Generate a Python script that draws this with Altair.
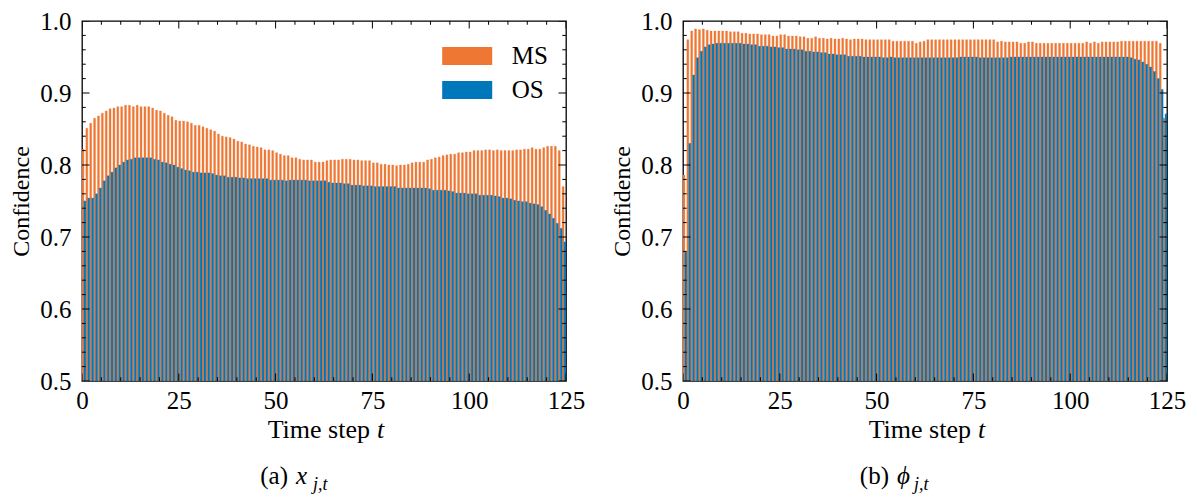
import altair as alt
import pandas as pd

# ---------------- data ----------------
STEPS = list(range(125))
SERIES = ["MS", "OS"]
COLORS = ["#EE7733", "#0077BB"]

A_MS = [0.822, 0.851, 0.858, 0.865, 0.868, 0.872, 0.875, 0.878, 0.879, 0.881,
        0.881, 0.883, 0.883, 0.881, 0.883, 0.881, 0.881, 0.881, 0.879, 0.876,
        0.875, 0.872, 0.869, 0.867, 0.862, 0.861, 0.861, 0.860, 0.858, 0.855,
        0.855, 0.853, 0.851, 0.849, 0.847, 0.843, 0.840, 0.839, 0.838, 0.836,
        0.833, 0.832, 0.829, 0.828, 0.826, 0.825, 0.824, 0.821, 0.821, 0.820,
        0.817, 0.815, 0.813, 0.813, 0.810, 0.810, 0.808, 0.807, 0.807, 0.807,
        0.804, 0.804, 0.804, 0.806, 0.807, 0.807, 0.807, 0.808, 0.808, 0.808,
        0.807, 0.807, 0.806, 0.806, 0.806, 0.803, 0.803, 0.801, 0.801, 0.800,
        0.800, 0.799, 0.800, 0.800, 0.801, 0.803, 0.804, 0.804, 0.804, 0.807,
        0.808, 0.810, 0.811, 0.813, 0.814, 0.815, 0.815, 0.817, 0.817, 0.818,
        0.818, 0.820, 0.820, 0.820, 0.821, 0.821, 0.820, 0.821, 0.820, 0.820,
        0.820, 0.820, 0.821, 0.821, 0.822, 0.822, 0.824, 0.822, 0.822, 0.824,
        0.826, 0.826, 0.826, 0.820, 0.770]

A_OS = [0.750, 0.754, 0.754, 0.760, 0.768, 0.778, 0.785, 0.790, 0.796, 0.800,
        0.804, 0.807, 0.808, 0.810, 0.810, 0.810, 0.810, 0.810, 0.808, 0.807,
        0.804, 0.803, 0.801, 0.800, 0.797, 0.795, 0.793, 0.792, 0.790, 0.790,
        0.789, 0.789, 0.789, 0.788, 0.786, 0.785, 0.785, 0.783, 0.783, 0.783,
        0.782, 0.782, 0.781, 0.781, 0.781, 0.781, 0.781, 0.781, 0.779, 0.779,
        0.779, 0.779, 0.778, 0.779, 0.779, 0.779, 0.779, 0.779, 0.778, 0.778,
        0.778, 0.778, 0.778, 0.776, 0.775, 0.775, 0.775, 0.774, 0.774, 0.772,
        0.772, 0.772, 0.771, 0.771, 0.771, 0.770, 0.770, 0.770, 0.770, 0.770,
        0.770, 0.768, 0.768, 0.768, 0.768, 0.768, 0.768, 0.768, 0.768, 0.767,
        0.765, 0.765, 0.765, 0.765, 0.764, 0.763, 0.761, 0.761, 0.761, 0.760,
        0.760, 0.760, 0.758, 0.758, 0.758, 0.758, 0.757, 0.756, 0.754, 0.754,
        0.753, 0.751, 0.750, 0.749, 0.749, 0.747, 0.746, 0.745, 0.742, 0.737,
        0.732, 0.726, 0.719, 0.712, 0.693]

B_MS = [0.786, 0.974, 0.986, 0.989, 0.988, 0.989, 0.987, 0.986, 0.986, 0.986,
        0.986, 0.986, 0.985, 0.985, 0.985, 0.983, 0.983, 0.982, 0.982, 0.982,
        0.981, 0.981, 0.981, 0.979, 0.979, 0.981, 0.981, 0.979, 0.979, 0.979,
        0.978, 0.978, 0.976, 0.976, 0.978, 0.976, 0.976, 0.975, 0.976, 0.975,
        0.975, 0.976, 0.975, 0.974, 0.975, 0.975, 0.975, 0.974, 0.974, 0.974,
        0.974, 0.974, 0.974, 0.974, 0.972, 0.972, 0.972, 0.972, 0.972, 0.972,
        0.969, 0.971, 0.972, 0.974, 0.974, 0.974, 0.974, 0.974, 0.974, 0.974,
        0.974, 0.974, 0.974, 0.974, 0.974, 0.974, 0.974, 0.974, 0.974, 0.974,
        0.974, 0.971, 0.972, 0.971, 0.971, 0.971, 0.971, 0.969, 0.969, 0.971,
        0.971, 0.969, 0.969, 0.969, 0.969, 0.969, 0.969, 0.969, 0.969, 0.969,
        0.969, 0.969, 0.969, 0.969, 0.971, 0.969, 0.971, 0.969, 0.971, 0.971,
        0.971, 0.971, 0.971, 0.972, 0.972, 0.972, 0.972, 0.972, 0.972, 0.972,
        0.972, 0.972, 0.972, 0.969, 0.865]

B_OS = [0.679, 0.830, 0.925, 0.949, 0.958, 0.964, 0.967, 0.968, 0.969, 0.969,
        0.969, 0.969, 0.969, 0.969, 0.969, 0.968, 0.968, 0.967, 0.967, 0.965,
        0.965, 0.965, 0.964, 0.964, 0.963, 0.963, 0.961, 0.961, 0.961, 0.960,
        0.960, 0.958, 0.958, 0.957, 0.957, 0.956, 0.956, 0.954, 0.954, 0.953,
        0.953, 0.953, 0.951, 0.951, 0.951, 0.951, 0.950, 0.950, 0.950, 0.950,
        0.950, 0.949, 0.949, 0.950, 0.949, 0.949, 0.949, 0.949, 0.949, 0.949,
        0.949, 0.949, 0.949, 0.949, 0.949, 0.949, 0.949, 0.949, 0.949, 0.949,
        0.949, 0.950, 0.950, 0.950, 0.950, 0.950, 0.949, 0.949, 0.949, 0.949,
        0.949, 0.949, 0.949, 0.949, 0.950, 0.950, 0.950, 0.950, 0.950, 0.950,
        0.950, 0.950, 0.950, 0.950, 0.950, 0.950, 0.950, 0.950, 0.950, 0.950,
        0.950, 0.950, 0.950, 0.950, 0.950, 0.950, 0.950, 0.950, 0.950, 0.950,
        0.950, 0.950, 0.950, 0.950, 0.950, 0.949, 0.947, 0.946, 0.943, 0.940,
        0.936, 0.930, 0.920, 0.905, 0.871]

X_MAJOR = [0, 25, 50, 75, 100, 125]
X_MINOR = [5, 10, 15, 20, 30, 35, 40, 45, 55, 60, 65, 70, 80, 85, 90, 95,
           105, 110, 115, 120]
Y_MAJOR = [0.5, 0.6, 0.7, 0.8, 0.9, 1.0]
Y_MINOR = [0.52, 0.54, 0.56, 0.58, 0.62, 0.64, 0.66, 0.68, 0.72, 0.74, 0.76,
           0.78, 0.82, 0.84, 0.86, 0.88, 0.92, 0.94, 0.96, 0.98]

# ---------------- styling ----------------
W, H = 484, 360
FONT = "Liberation Serif"
FS = 25
MAJOR_LEN, MINOR_LEN = 15, 7.5   # doubled: half is clipped away -> inward ticks

xscale = alt.Scale(domain=[0, 125], nice=False, zero=False)
yscale = alt.Scale(domain=[0.5, 1.0], nice=False, zero=False)
cscale = alt.Scale(domain=SERIES, range=COLORS)

AXIS_TEXT = dict(labelFont=FONT, labelFontSize=FS, labelColor="black",
                 titleFont=FONT, titleFontSize=24, titleColor="black",
                 titleFontWeight="normal")
X_AXIS = alt.Axis(values=X_MAJOR, format="d", ticks=False, domain=False,
                  grid=False, labelFlush=False, labelOverlap=False,
                  labelPadding=7, title=None, **AXIS_TEXT)
Y_AXIS = alt.Axis(values=Y_MAJOR, format=".1f", ticks=False, domain=False,
                  grid=False, labelFlush=False, labelOverlap=False,
                  labelPadding=11, title="Confidence", titlePadding=6,
                  **AXIS_TEXT)


def long_frame(ms, os_):
    return pd.DataFrame({
        "t": STEPS + STEPS,
        "series": ["MS"] * len(STEPS) + ["OS"] * len(STEPS),
        "v": ms + os_,
    })


xt = pd.DataFrame({"p": X_MAJOR + X_MINOR,
                   "len": [MAJOR_LEN] * len(X_MAJOR) + [MINOR_LEN] * len(X_MINOR)})
yt = pd.DataFrame({"p": Y_MAJOR + Y_MINOR,
                   "len": [MAJOR_LEN] * len(Y_MAJOR) + [MINOR_LEN] * len(Y_MINOR)})


def txt(s, x, y, align="left", style="normal", size=FS):
    return alt.Chart(pd.DataFrame({"s": [s]})).mark_text(
        align=align, baseline="alphabetic", font=FONT, fontSize=size,
        fontStyle=style, color="black"
    ).encode(text="s:N", x=alt.value(x), y=alt.value(y))


def panel(df, letter, sym, show_legend):
    if show_legend:
        legend = alt.Legend(
            title=None, orient="none", legendX=372.7, legendY=22.5,
            symbolType="M-2.78,-1L2.78,-1L2.78,1L-2.78,1Z", symbolSize=324,
            symbolStrokeWidth=0, symbolOpacity=1, labelFont=FONT,
            labelFontSize=FS, labelColor="black", labelOffset=32,
            rowPadding=8, padding=0,
        )
    else:
        legend = None

    bars = alt.Chart(df).transform_calculate(
        x0="datum.t + (datum.series == 'MS' ? 0 : 0.5)",
        x1="datum.t + (datum.series == 'MS' ? 0.5 : 1)",
    ).mark_rect(clip=True, strokeWidth=0.35).encode(
        x=alt.X("x0:Q", scale=xscale, axis=X_AXIS),
        x2="x1:Q",
        y=alt.Y("v:Q", scale=yscale, axis=Y_AXIS),
        y2=alt.datum(0.5),
        color=alt.Color("series:N", scale=cscale, legend=legend),
        stroke=alt.Stroke("series:N", scale=cscale, legend=None),
    )

    size = alt.Size("len:Q", scale=None, legend=None)
    xs = alt.X("p:Q", scale=xscale, axis=X_AXIS)
    ys = alt.Y("p:Q", scale=yscale, axis=Y_AXIS)
    tick = dict(clip=True, thickness=1, color="black", opacity=1)
    t_bottom = alt.Chart(xt).mark_tick(orient="vertical", **tick).encode(
        x=xs, y=alt.value(H), size=size)
    t_top = alt.Chart(xt).mark_tick(orient="vertical", **tick).encode(
        x=xs, y=alt.value(0), size=size)
    t_left = alt.Chart(yt).mark_tick(orient="horizontal", **tick).encode(
        y=ys, x=alt.value(0), size=size)
    t_right = alt.Chart(yt).mark_tick(orient="horizontal", **tick).encode(
        y=ys, x=alt.value(W), size=size)

    xtitle_a = txt("Time step", 288, H + 57, align="right", size=26)
    xtitle_b = txt("t", 295, H + 57, style="italic", size=26)
    cap_a = txt(letter, 206, H + 103, align="right")
    cap_b = txt(sym, 214, H + 103, style="italic")
    cap_c = txt("j,t", 231, H + 109, style="italic", size=18)

    return alt.layer(bars, t_bottom, t_top, t_left, t_right,
                     xtitle_a, xtitle_b, cap_a, cap_b, cap_c).properties(
        width=W, height=H)


left = panel(long_frame(A_MS, A_OS), "(a)", "x", True)
right = panel(long_frame(B_MS, B_OS), "(b)", "ϕ", False)

chart = alt.hconcat(left, right, spacing=24).resolve_scale(
    color="independent", stroke="independent"
).properties(
    padding={"left": 1, "top": 0, "right": 0, "bottom": 0},
    background="white",
).configure_view(
    stroke="black", strokeWidth=1.3
)

chart.save("out.html", embed_options={"renderer": "svg", "actions": False})
